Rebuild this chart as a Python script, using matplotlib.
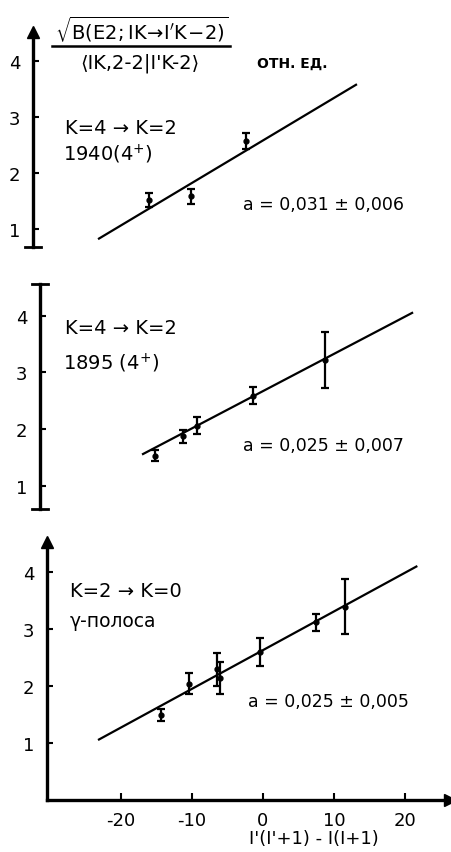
import matplotlib
matplotlib.use("Agg")
import matplotlib.pyplot as plt
from matplotlib.lines import Line2D

plt.rcParams['font.family'] = ['DejaVu Sans']
plt.rcParams['mathtext.fontset'] = 'dejavusans'

# ---- data ----
top_x = [-16.1, -10.2, -2.4]
top_y = [1.52, 1.58, 2.57]
top_err = [0.12, 0.14, 0.14]
top_fit_x = [-23.1, 13.1]
top_fit_y = [0.83, 3.57]

mid_x = [-15.2, -11.3, -9.25, -1.4, 8.7]
mid_y = [1.53, 1.87, 2.06, 2.59, 3.22]
mid_err = [0.10, 0.11, 0.15, 0.15, 0.50]
mid_fit_x = [-16.9, 21.0]
mid_fit_y = [1.56, 4.05]

bot_x = [-14.4, -10.4, -6.5, -6.0, -0.4, 7.5, 11.5]
bot_y = [1.49, 2.04, 2.29, 2.13, 2.59, 3.11, 3.39]
bot_err = [0.10, 0.19, 0.29, 0.28, 0.25, 0.15, 0.48]
bot_fit_x = [-23.1, 21.6]
bot_fit_y = [1.06, 4.09]

x_ticks = [-20, -10, 0, 10, 20]
y_ticks = [1, 2, 3, 4]

W, H = 451, 853
fig = plt.figure(figsize=(W / 100, H / 100), dpi=100)


def px_axes(left, top, bottom, ylim):
    # axes placed by pixel positions; same x scale for every panel
    x0 = (left - 263) / 7.1
    x1 = (450 - 263) / 7.1
    ax = fig.add_axes([left / W, 1 - bottom / H, (450 - left) / W, (bottom - top) / H])
    ax.set_xlim(x0, x1)
    ax.set_ylim(*ylim)
    return ax


def ftext(px, py, s, **kw):
    fig.text(px / W, 1 - py / H, s, **kw)


panels = [
    (px_axes(33, 33, 248, (0.68, 4.51)), top_x, top_y, top_err, top_fit_x, top_fit_y),
    (px_axes(40, 285, 510, (0.59, 4.56)), mid_x, mid_y, mid_err, mid_fit_x, mid_fit_y),
    (px_axes(47, 543, 801, (0.0, 4.52)), bot_x, bot_y, bot_err, bot_fit_x, bot_fit_y),
]

for i, (ax, x, y, e, fx, fy) in enumerate(panels):
    ax.plot(fx, fy, color='black', lw=1.6)
    ax.errorbar(x, y, yerr=e, fmt='o', color='black', ms=3.5,
                elinewidth=1.6, capsize=3, capthick=1.6)
    for s in ['top', 'right']:
        ax.spines[s].set_visible(False)
    ax.spines['left'].set_linewidth(2.4)
    ax.set_yticks(y_ticks)
    ax.tick_params(axis='y', direction='in', length=4, width=1.5,
                   labelsize=13, pad=9)
    if i < 2:
        ax.spines['bottom'].set_visible(False)
        ax.set_xticks([])
    else:
        ax.spines['bottom'].set_linewidth(2.4)
        ax.set_xticks(x_ticks)
        ax.tick_params(axis='x', direction='in', length=5, width=1.5,
                       labelsize=13, pad=8)
        ax.set_xticklabels([str(t) for t in x_ticks])
        ax.plot(1, 0, '>', color='black', ms=8, transform=ax.transAxes, clip_on=False)

# arrows / end hooks on the vertical axes
panels[0][0].plot(0, 1, '^', color='black', ms=8, transform=panels[0][0].transAxes, clip_on=False)
panels[2][0].plot(0, 1, '^', color='black', ms=8, transform=panels[2][0].transAxes, clip_on=False)
for ax, ys in [(panels[0][0], [0]), (panels[1][0], [0, 1])]:
    for yy in ys:
        ax.plot([-0.02, 0.02], [yy, yy], color='black', lw=2, transform=ax.transAxes, clip_on=False)

# header of the y quantity
ftext(142, 30, r"$\sqrt{\mathrm{B(E2;IK\!\rightarrow\!I'K\!-\!2)}}$", fontsize=14, ha='center', va='center')
fig.add_artist(Line2D([52 / W, 230 / W], [1 - 47 / H, 1 - 47 / H], color='black', lw=1.8))
ftext(140, 63, "\u27e8IK,2-2|I'K-2\u27e9", fontsize=14, ha='center', va='center')
ftext(257, 64, "ОТН. ЕД.", fontsize=10, fontweight='bold', va='center')

# panel annotations
ftext(65, 128, "K=4 → K=2", fontsize=14, va='center')
ftext(63, 154, r"1940(4$^{+}$)", fontsize=14, va='center')
ftext(243, 205, "a = 0,031 ± 0,006", fontsize=12.5, va='center')

ftext(65, 328, "K=4 → K=2", fontsize=14, va='center')
ftext(63, 363, r"1895 (4$^{+}$)", fontsize=14, va='center')
ftext(243, 446, "a = 0,025 ± 0,007", fontsize=12.5, va='center')

ftext(70, 592, "K=2 → K=0", fontsize=14, va='center')
ftext(70, 622, "γ-полоса", fontsize=13.5, va='center')
ftext(248, 702, "a = 0,025 ± 0,005", fontsize=12.5, va='center')

ftext(314, 839, "I'(I'+1) - I(I+1)", fontsize=13, ha='center', va='center')

fig.savefig("out.png", dpi=100)
